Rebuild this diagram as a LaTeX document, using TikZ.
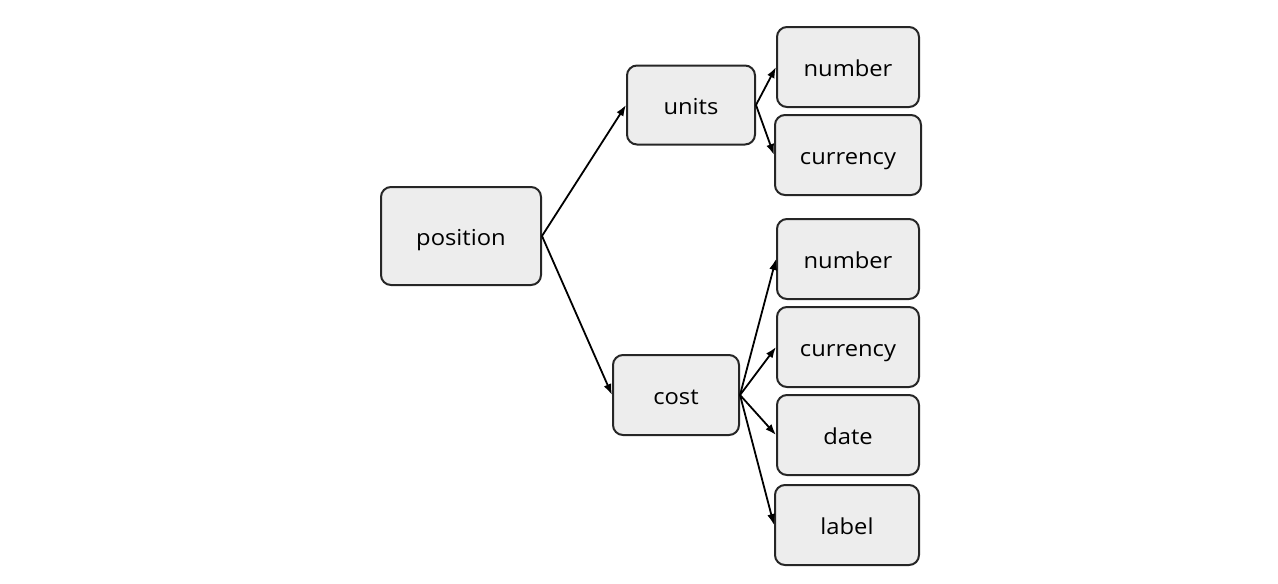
\documentclass[tikz,border=0pt]{standalone}
\usepackage{fontspec}
\setmainfont{Open Sans}[FakeStretch=1.08]
\usetikzlibrary{arrows.meta}
\begin{document}
\begin{tikzpicture}[x=1pt,y=-1pt,
  box/.style={draw=black!85, line width=2pt, fill=black!7, rounded corners=10pt,
    inner sep=0pt, text height=20pt, text depth=1pt, font=\fontsize{22}{24}\selectfont},
  edge/.style={line width=1.8pt, -{Latex[length=11pt,width=8pt]}}]
\useasboundingbox (0,0) rectangle (1278,584);
\node[box, minimum width=160pt, minimum height=98pt] (pos) at (461,236) {position};
\node[box, minimum width=128pt, minimum height=79pt] (units) at (691,105) {units};
\node[box, minimum width=126pt, minimum height=80pt] (cost) at (676,395) {cost};
\node[box, minimum width=142pt, minimum height=80pt] (n1) at (848,67) {number};
\node[box, minimum width=146pt, minimum height=80pt] (c1) at (848,155) {currency};
\node[box, minimum width=142pt, minimum height=80pt] (n2) at (848,259) {number};
\node[box, minimum width=142pt, minimum height=80pt] (c2) at (848,347) {currency};
\node[box, minimum width=142pt, minimum height=80pt] (d) at (848,435) {date};
\node[box, minimum width=144pt, minimum height=80pt] (l) at (847,525) {label};
\draw[edge] (pos.east) -- (units.west);
\draw[edge] (pos.east) -- (cost.west);
\draw[edge] (units.east) -- (n1.west);
\draw[edge] (units.east) -- (c1.west);
\draw[edge] (cost.east) -- (n2.west);
\draw[edge] (cost.east) -- (c2.west);
\draw[edge] (cost.east) -- (d.west);
\draw[edge] (cost.east) -- (l.west);
\end{tikzpicture}
\end{document}
